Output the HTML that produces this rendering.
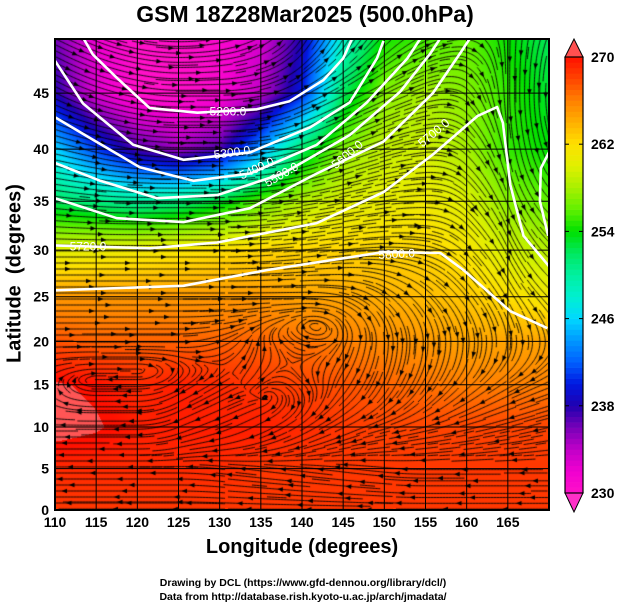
<!DOCTYPE html>
<html><head><meta charset="utf-8">
<style>
html,body{margin:0;padding:0;background:#fff;}
body{width:619px;height:605px;position:relative;overflow:hidden;font-family:"Liberation Sans",sans-serif;}
.t{position:absolute;font-weight:bold;color:#000;white-space:nowrap;}
</style></head>
<body>
<div class="t" style="left:0;width:610px;text-align:center;top:1px;font-size:23px;">GSM 18Z28Mar2025 (500.0hPa)</div>
<canvas id="cv" width="619" height="605" style="position:absolute;left:0;top:0"></canvas>
<svg id="sv" width="619" height="605" style="position:absolute;left:0;top:0"></svg>
<div class="t" style="left:0;width:604px;text-align:center;top:536px;font-size:20px;">Longitude (degrees)</div>
<div class="t" style="left:-80px;top:262px;width:190px;text-align:center;font-size:20px;transform:rotate(-90deg);">Latitude&nbsp;&nbsp;(degrees)</div>
<div class="t" style="left:0;width:606px;text-align:center;top:577px;font-size:10.5px;">Drawing by DCL (https://www.gfd-dennou.org/library/dcl/)</div>
<div class="t" style="left:0;width:606px;text-align:center;top:591px;font-size:10.5px;">Data from http://database.rish.kyoto-u.ac.jp/arch/jmadata/</div>
<script>
// ---- data ----
const lons=[110,115,120,125,130,135,140,145,150,155,160,165,170];
const lats=[50,45,40,35,30,25,20,15,10,5,0];
const temp=[
[236,232,230,230,231,233,238,248,254,255,256,254,252],
[238,233,230,230,231,234,240,252,257,258,257,255,253],
[246,241,237,235,237,244,252,257,259,259.5,258,255,254],
[252,251,250,251,253,256,258.5,260,260.5,261,260,257,256],
[260,260.5,261,261.5,262,262.5,262.5,262.5,262.5,262.5,261.5,259.5,258.5],
[265,265,265,265,265,265,264.5,264.5,264,263.5,263,262,261],
[267.5,267,267,267,267,267,266.5,266,265.5,265,264.5,264.5,264.5],
[270.5,270,269,269.5,269,268.5,268,267.5,267,266.5,266,266,266],
[271,270.5,269.5,269.5,269.5,269.5,269,268.5,268,268,268,268,268],
[269,269,269,269,269,268.5,268.5,268.5,268.5,268.5,268.5,268.5,268.5],
[268.5,268.5,268.5,268.5,268.5,268.5,268.5,268.5,268.5,268.5,268.5,268.5,268.5]];
const windU=[
[10,12,15,15,12,8,5,5,8,10,5,0,-2],
[15,15,15,15,15,15,15,20,20,15,5,0,0],
[20,20,20,25,25,25,25,25,25,20,10,2,2],
[25,25,30,30,30,30,30,30,25,20,10,5,5],
[25,30,30,30,30,30,30,25,20,15,10,5,5],
[20,25,25,25,20,20,15,10,10,10,8,5,5],
[10,12,10,10,8,0,-8,-2,0,0,0,0,0],
[0,-2,-5,-5,-5,4,6,-5,-5,-5,-5,-5,-5],
[-5,-8,-5,-5,-8,-10,-10,-10,-10,-8,-8,-8,-8],
[-5,-5,-5,-5,-8,-8,-8,-8,-10,-10,-8,-8,-8],
[0,-2,-3,-5,-5,-5,-5,-5,-5,-5,-5,-5,-5]];
const windV=[
[-5,-5,-3,0,3,5,10,12,10,5,0,-5,-5],
[-8,-5,-3,0,0,3,8,10,10,5,-5,-10,-5],
[-5,-5,-3,0,0,3,8,10,8,2,-10,-12,-5],
[-3,-2,0,0,0,3,5,6,4,0,-10,-12,-5],
[0,0,0,0,0,2,3,3,0,-3,-10,-10,-5],
[0,0,0,0,0,0,0,-3,-8,-10,-10,-8,-5],
[0,0,0,0,3,6,3,-5,-10,-10,-8,-5,-3],
[2,0,0,-3,-3,3,-6,-8,-10,-8,-5,-3,-2],
[0,0,0,-2,-3,-5,-6,-5,-3,-2,-2,-2,-2],
[0,0,0,0,1,1,1,1,1,0,0,0,0],
[0,0,0,0,0,0,0,0,0,0,0,0,0]];
const cmapVals=[230,232,234,236,238,240,242,244,246,248,250,252,254,256,258,260,262,264,266,268,270];
const cmapCols=["#ff10c8","#f000d0","#c000c8","#7800b8","#2000b0","#0018e0","#0060ff","#0098ff","#00d8ff","#00f0d0","#00f0a0","#00e860","#00e000","#60f000","#a8f000","#e0f000","#ffe000","#ffb000","#ff8000","#ff4400","#ff1000"];
const cbarTicks=[230,238,246,254,262,270];
const xTicks=[110,115,120,125,130,135,140,145,150,155,160,165];
const yTicks=[0,5,10,15,20,25,30,35,40,45];
const contourLevels=["5200.0","5300.0","5400.0","5500.0","5600.0","5700.0","5700b","5800.0"];
const contourLon=[
[113,114.6,117.5,121.5,127.3,134.5,138.5,142.6,145,146.1],
[110,113.4,119.5,125.6,133.7,141,145.8,149.1,149.9],
[110,114.3,120.3,126.8,133.7,141.8,147.9,152.8,154.4],
[110,115.5,122.4,129.7,137.7,145.8,151.9,155.6,156.8],
[110,117.5,125.6,133.7,141.8,149.9,155.9,159.2,160.4],
[110,121.5,129.7,141.8,149.9,155.9,161.3,163.7,164.4,165.3,166.9,170.1],
[170,169,168.9,169.9],
[110,125.6,135.8,149.9,156.8,159.6,165.3,169.8]];
const contourLat=[
[50,48.2,46.3,43.7,43.3,43.6,44.3,46.1,47.9,49.5],
[47.7,44.1,40.4,39,39.7,42,44.2,47.9,49.3],
[42.9,41,38.3,37,37.7,40.4,44.2,47.9,49.5],
[38.7,37,35.3,35.6,37.7,41.3,45.1,48.3,49.5],
[35.3,33.3,32.9,34.3,37.7,40.7,45,48.3,49.5],
[30.5,30.2,30.8,32.8,35.9,39.5,43,43.8,42.4,36.6,31.5,28.2],
[39.7,38.2,35,31.5],
[25.7,26.2,27.9,29.8,29.7,27.9,23.4,21.5]];
const labelText=["5200.0","5300.0","5400.0","5500.0","5600.0","5700.0","5720.0","5800.0"];
const labelLon=[131,131.5,134.5,137.5,145.5,156,114,151.5];
const labelLat=[43.4,39.7,38.2,37.6,39.5,41.5,30.4,29.6];
const labelRot=[0,-8,-25,-30,-40,-40,0,-3];

// ---- axes ----
const X0=55,X1=549,Y0=510,YT=39,K=473;
function merc(l){return Math.log(Math.tan(Math.PI/4+l*Math.PI/360));}
function xs(lon){return X0+(lon-110)*(X1-X0)/60;}
function ys(lat){return Y0-K*merc(lat);}
function xinv(x){return 110+(x-X0)*60/(X1-X0);}
function yinv(y){const m=(Y0-y)/K;return (2*Math.atan(Math.exp(m))-Math.PI/2)*180/Math.PI;}
function interp(g,lon,lat){
  let fi=(lon-110)/5, fj=(50-lat)/5;
  fi=Math.max(0,Math.min(11.999,fi)); fj=Math.max(0,Math.min(9.999,fj));
  const i=Math.floor(fi),j=Math.floor(fj),a=fi-i,b=fj-j;
  return g[j][i]*(1-a)*(1-b)+g[j][i+1]*a*(1-b)+g[j+1][i]*(1-a)*b+g[j+1][i+1]*a*b;
}
function hex(c){return [parseInt(c.substr(1,2),16),parseInt(c.substr(3,2),16),parseInt(c.substr(5,2),16)];}
const cm=cmapCols.map(hex);
function color(t){
  if(t>270.3)return [255,85,85];
  if(t<=230)return cm[0];
  for(let k=0;k<cmapVals.length-1;k++){
    if(t<=cmapVals[k+1]){const f=(t-cmapVals[k])/(cmapVals[k+1]-cmapVals[k]);
      return [0,1,2].map(c=>Math.round(cm[k][c]*(1-f)+cm[k+1][c]*f));}
  }
  return cm[cm.length-1];
}
// ---- field ----
const cv=document.getElementById('cv'),ctx=cv.getContext('2d');
const img=ctx.createImageData(X1-X0,Y0-YT);
for(let y=YT;y<Y0;y++){const lat=yinv(y+0.5);
  for(let x=X0;x<X1;x++){const c=color(interp(temp,xinv(x+0.5),lat));
    const p=((y-YT)*(X1-X0)+(x-X0))*4;img.data[p]=c[0];img.data[p+1]=c[1];img.data[p+2]=c[2];img.data[p+3]=255;}}
ctx.putImageData(img,X0,YT);
// ---- streamlines (evenly spaced) ----
ctx.save();ctx.beginPath();ctx.rect(X0,YT,X1-X0,Y0-YT);ctx.clip();
ctx.strokeStyle="#000";ctx.lineWidth=0.9;ctx.fillStyle="#000";
const CS=4,GW=Math.ceil((X1-X0)/CS),GH=Math.ceil((Y0-YT)/CS);
const occ=new Int32Array(GW*GH).fill(-1);
function cell(x,y){return Math.floor((y-YT)/CS)*GW+Math.floor((x-X0)/CS);}
function dir(x,y){const lo=xinv(x),la=yinv(y);const u=interp(windU,lo,la),v=-interp(windV,lo,la);const s=Math.hypot(u,v);return s<0.3?null:[u/s,v/s];}
function trace(x,y,sgn,id){const pts=[];for(let k=0;k<110;k++){const d=dir(x,y);if(!d)break;x+=sgn*1.5*d[0];y+=sgn*1.5*d[1];if(x<X0||x>=X1||y<YT||y>=Y0)break;const c=cell(x,y);if(occ[c]!==-1&&occ[c]!==id)break;pts.push([x,y]);}return pts;}
let id=0;
for(let sy=YT+2;sy<Y0;sy+=6){for(let sx=X0+2+(sy%12?3:0);sx<X1;sx+=6){
  if(occ[cell(sx,sy)]!==-1)continue;
  id++;
  const f=trace(sx,sy,1,id),b=trace(sx,sy,-1,id);
  const pts=b.reverse().concat([[sx,sy]],f);
  if(pts.length<8)continue;
  for(const p of pts)occ[cell(p[0],p[1])]=id;
  ctx.beginPath();ctx.moveTo(pts[0][0],pts[0][1]);for(const p of pts)ctx.lineTo(p[0],p[1]);ctx.stroke();
  for(let k=6+(id*13)%30;k<pts.length-3;k+=40){const ax=pts[k][0],ay=pts[k][1];const d=dir(ax,ay);if(!d)continue;const px=-d[1],py=d[0];
    ctx.beginPath();ctx.moveTo(ax+d[0]*3,ay+d[1]*3);ctx.lineTo(ax-d[0]*2.5+px*2.3,ay-d[1]*2.5+py*2.3);ctx.lineTo(ax-d[0]*2.5-px*2.3,ay-d[1]*2.5-py*2.3);ctx.closePath();ctx.fill();}
}}
ctx.restore();
// ---- svg overlay ----
const NS="http://www.w3.org/2000/svg",sv=document.getElementById('sv');
function el(t,a,parent){const e=document.createElementNS(NS,t);for(const k in a)e.setAttribute(k,a[k]);(parent||sv).appendChild(e);return e;}
const clip=el('clipPath',{id:'pc'});el('rect',{x:X0,y:YT,width:X1-X0,height:Y0-YT},clip);
for(let lo=115;lo<170;lo+=5){const g=el('line',{x1:xs(lo),x2:xs(lo),y1:YT,y2:Y0,stroke:'#000','stroke-width':1});

}
for(let la=5;la<50;la+=5){const g=el('line',{x1:X0,x2:X1,y1:ys(la),y2:ys(la),stroke:'#000','stroke-width':1});

}
contourLon.forEach((arr,i)=>{let d='';arr.forEach((lo,k)=>{d+=(k?'L':'M')+xs(lo).toFixed(1)+','+ys(contourLat[i][k]).toFixed(1);});
  const p=el('path',{d:d,fill:'none',stroke:'#fff','stroke-width':2.6,'stroke-linejoin':'round','clip-path':'url(#pc)'});
  
  });
labelText.forEach((t,i)=>{const x=xs(labelLon[i]),y=ys(labelLat[i]);
  const tx=el('text',{x:x,y:y+4,'text-anchor':'middle','font-size':12,'font-family':'Liberation Sans, sans-serif',fill:'#fff',transform:'rotate('+labelRot[i]+' '+x+' '+y+')'});tx.textContent=t;
  
  });
const fr=el('rect',{x:X0,y:YT,width:X1-X0,height:Y0-YT,fill:'none',stroke:'#000','stroke-width':2});


xTicks.forEach(v=>{const t=el('text',{x:xs(v),y:527,'text-anchor':'middle','font-size':14,'font-weight':'bold','font-family':'Liberation Sans, sans-serif'});t.textContent=v;
  
  });
yTicks.forEach(v=>{const t=el('text',{x:49,y:ys(v)+5,'text-anchor':'end','font-size':14,'font-weight':'bold','font-family':'Liberation Sans, sans-serif'});t.textContent=v;
  
  });
const CB0=565,CB1=583,CT=57,CB=493;
function cy(v){return CB-(v-230)*(CB-CT)/40;}
for(let v=230;v<270;v+=0.5){const c=color(v+0.25);
  el('rect',{x:CB0,y:cy(v+0.5),width:CB1-CB0,height:(CB-CT)/80+0.3,fill:'rgb('+c.join(',')+')'});}
const up=el('polygon',{points:`${CB0},${CT} ${CB1},${CT} ${(CB0+CB1)/2},39`,fill:'#ff5050',stroke:'#000','stroke-width':1});


const dn=el('polygon',{points:`${CB0},${CB} ${CB1},${CB} ${(CB0+CB1)/2},512`,fill:'#ff30c8',stroke:'#000','stroke-width':1});


const cbr=el('rect',{x:CB0,y:CT,width:CB1-CB0,height:CB-CT,fill:'none',stroke:'#000','stroke-width':1.2});


cbarTicks.forEach(v=>{const t=el('text',{x:591,y:cy(v)+5,'font-size':14,'font-weight':'bold','font-family':'Liberation Sans, sans-serif'});t.textContent=v;
  
  
  el('line',{x1:CB0,x2:CB0+4,y1:cy(v),y2:cy(v),stroke:'#000'});el('line',{x1:CB1-4,x2:CB1,y1:cy(v),y2:cy(v),stroke:'#000'});});
</script>
</body></html>
